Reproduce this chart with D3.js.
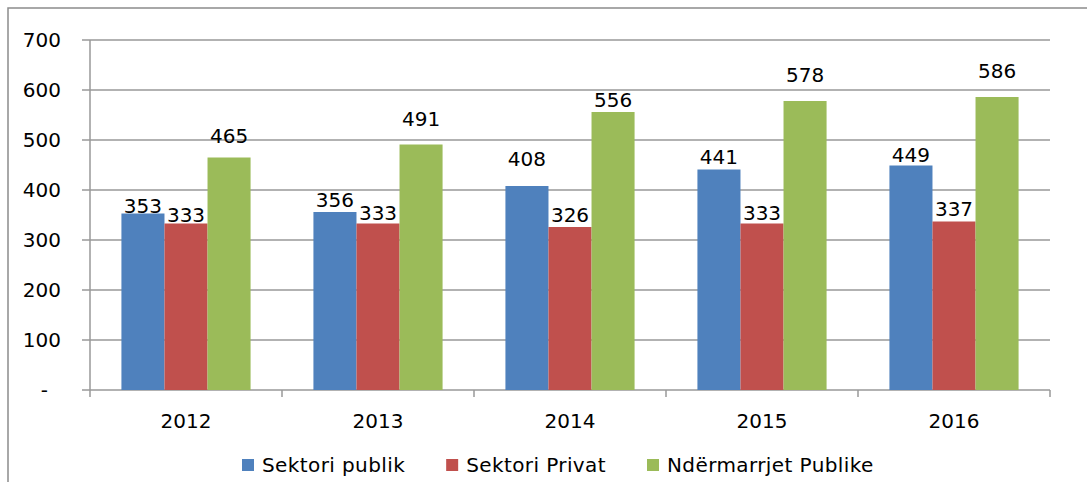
<!DOCTYPE html>
<html>
<head>
<meta charset="utf-8">
<script src="https://cdn.jsdelivr.net/npm/d3@7"></script>
<style>
  body { margin: 0; background: #fff; }
  text { font-family: "DejaVu Sans", sans-serif; fill: #000; }
</style>
</head>
<body>
<div id="chart"></div>
<script>
const years = ["2012", "2013", "2014", "2015", "2016"];
const seriesNames = ["Sektori publik", "Sektori Privat", "Ndërmarrjet Publike"];
const sektoriPublik = [353, 356, 408, 441, 449];
const sektoriPrivat = [333, 333, 326, 333, 337];
const ndermarrjet = [465, 491, 556, 578, 586];
const yTicks = [0, 100, 200, 300, 400, 500, 600, 700];

const colors = ["#4f81bd", "#c0504d", "#9bbb59"];
// how far above the bar top each label sits (as in the original)
const labelGap = [[1, 2, 15], [5, 4, 19], [20, 5, 5], [6, 4, 19], [4, 6, 19]];

const width = 1087, height = 482;
const margin = {top: 40, right: 37, bottom: 92, left: 90};
const gridCol = "#999";

const svg = d3.select("#chart")
  .append("svg")
  .attr("width", width)
  .attr("height", height);

// outer frame
svg.append("rect")
  .attr("x", 8).attr("y", 8)
  .attr("width", width + 20).attr("height", height + 20)
  .attr("fill", "none")
  .attr("stroke", "#8c8c8c")
  .attr("stroke-width", 1.5);

const x = d3.scaleBand()
  .domain(years)
  .range([margin.left, width - margin.right])
  .padding(0);

const xs = d3.scaleBand()
  .domain(seriesNames)
  .range([0, x.bandwidth()])
  .paddingInner(0)
  .paddingOuter(0.73);

const y = d3.scaleLinear()
  .domain([0, 700])
  .range([height - margin.bottom, margin.top]);

// grid lines + y ticks
svg.append("g")
  .selectAll("line")
  .data(yTicks)
  .join("line")
  .attr("x1", margin.left - 8)
  .attr("x2", width - margin.right)
  .attr("y1", d => y(d))
  .attr("y2", d => y(d))
  .attr("stroke", gridCol)
  .attr("stroke-width", 1.5);

svg.append("g")
  .selectAll("text")
  .data(yTicks)
  .join("text")
  .attr("x", d => d === 0 ? 48 : 61)
  .attr("y", d => y(d))
  .attr("dy", "0.35em")
  .attr("text-anchor", "end")
  .style("font-size", "20px")
  .text(d => d === 0 ? "-" : d);

// vertical axis line
svg.append("line")
  .attr("x1", margin.left).attr("x2", margin.left)
  .attr("y1", y(700)).attr("y2", y(0) + 7)
  .attr("stroke", gridCol)
  .attr("stroke-width", 1.5);

// category boundary ticks
const bounds = years.map(d => x(d)).concat([x.range()[1]]);
svg.append("g")
  .selectAll("line")
  .data(bounds.slice(1))
  .join("line")
  .attr("x1", d => d).attr("x2", d => d)
  .attr("y1", y(0)).attr("y2", y(0) + 7)
  .attr("stroke", gridCol)
  .attr("stroke-width", 1.5);

const allSeries = [sektoriPublik, sektoriPrivat, ndermarrjet];
const rows = [];
years.forEach((yr, i) => {
  allSeries.forEach((vals, s) => {
    rows.push({year: yr, series: seriesNames[s], s: s, i: i, value: vals[i]});
  });
});

svg.append("g")
  .selectAll("rect")
  .data(rows)
  .join("rect")
  .attr("x", d => x(d.year) + xs(d.series))
  .attr("y", d => y(d.value))
  .attr("width", xs.bandwidth())
  .attr("height", d => y(0) - y(d.value))
  .attr("fill", d => colors[d.s]);

svg.append("g")
  .selectAll("text")
  .data(rows)
  .join("text")
  .attr("x", d => x(d.year) + xs(d.series) + xs.bandwidth() / 2)
  .attr("y", d => y(d.value) - labelGap[d.i][d.s])
  .attr("text-anchor", "middle")
  .style("font-size", "20px")
  .text(d => d.value);

// category labels
svg.append("g")
  .selectAll("text")
  .data(years)
  .join("text")
  .attr("x", d => x(d) + x.bandwidth() / 2)
  .attr("y", y(0) + 38)
  .attr("text-anchor", "middle")
  .style("font-size", "20px")
  .text(d => d);

// legend
const legend = svg.append("g");
let lx = 242;
seriesNames.forEach((name, s) => {
  legend.append("rect")
    .attr("x", lx).attr("y", 459)
    .attr("width", 12).attr("height", 12)
    .attr("fill", colors[s]);
  const t = legend.append("text")
    .attr("x", lx + 20)
    .attr("y", 472)
    .style("font-size", "20px")
    .style("letter-spacing", "0.4px")
    .text(name);
  lx += 20 + t.node().getComputedTextLength() + 41;
});
</script>
</body>
</html>
